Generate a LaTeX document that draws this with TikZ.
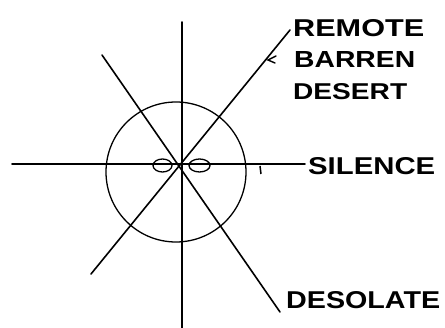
\documentclass[tikz,border=0pt]{standalone}
\usepackage{fontspec}
\setmainfont{Liberation Sans}
\usepackage{graphicx}
\newcommand\hlbl[3]{\resizebox{#1pt}{#2pt}{\bfseries #3}}
\begin{document}
\begin{tikzpicture}[x=1pt,y=-1pt,
  ink/.style={line width=1.6pt,line cap=round},
  thinink/.style={line width=1.3pt},
  lab/.style={anchor=north west,inner sep=0pt}]
\useasboundingbox (0,0) rectangle (445,328);
% endpoints
\coordinate (vt) at (182,22);
\coordinate (vb) at (182,330);
\coordinate (hl) at (12,164);
\coordinate (hr) at (305,164);
\coordinate (d1a) at (102,55);
\coordinate (d1b) at (280,312);
\coordinate (d2a) at (91,274);
\coordinate (d2b) at (290,30);
\coordinate (cc) at (176,172);
\coordinate (el) at (162.5,165.5);
\coordinate (er) at (199.5,165.5);
% lines
\draw[ink] (vt) -- (vb);
\draw[ink] (hl) -- (hr);
\draw[line width=2.4pt] (12,164) -- (50,164);
\draw[ink] (d1a) -- (d1b);
\draw[ink] (d2a) -- (d2b);
\draw[thinink] (cc) circle[radius=70];
\draw[thinink] (el) ellipse[x radius=9.5,y radius=6.5];
\draw[thinink] (er) ellipse[x radius=10.5,y radius=6.5];
% small marks
\draw[line width=1.5pt] (260,166) -- (261,174);
\draw[line width=1.4pt,line cap=round] (276,56) -- (268,60) -- (275,63);
% labels
\node[lab] (remote) at (293,19) {\hlbl{131}{17}{REMOTE}};
\node[lab] (barren) at (294,51) {\hlbl{121}{16}{BARREN}};
\node[lab] (desert) at (293,83) {\hlbl{114}{16}{DESERT}};
\node[lab] (silence) at (308,157) {\hlbl{127}{17}{SILENCE}};
\node[lab] (desolate) at (286,291) {\hlbl{154}{17}{DESOLATE}};
\end{tikzpicture}
\end{document}
